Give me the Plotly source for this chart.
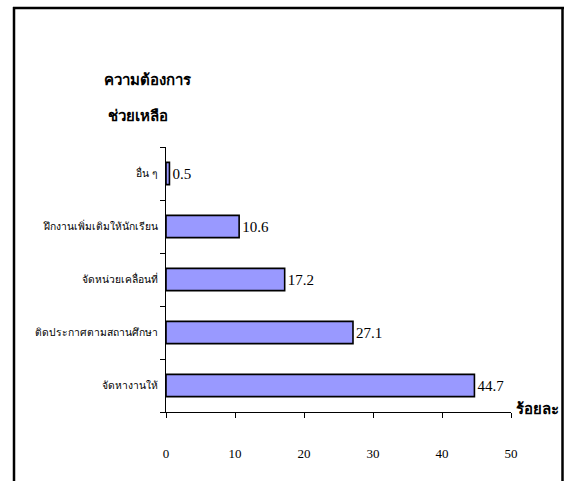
import plotly.graph_objects as go

categories = ["อื่น ๆ", "ฝึกงานเพิ่มเติมให้นักเรียน", "จัดหน่วยเคลื่อนที่", "ติดประกาศตามสถานศึกษา", "จัดหางานให้"]
values = [0.5, 10.6, 17.2, 27.1, 44.7]
x_ticks = [0, 10, 20, 30, 40, 50]
title_lines = ["ความต้องการ", "ช่วยเหลือ"]
x_title = "ร้อยละ"

W, H = 565, 481
L, R, T, B = 166, 54, 147, 69
pw, ph = W - L - R, H - T - B

def px(x):
    return (x - L) / pw

def py(y):
    return (H - B - y) / ph

fig = go.Figure()
fig.add_trace(go.Bar(
    x=values, y=categories, orientation="h",
    marker=dict(color="#9999FF", line=dict(color="black", width=1.6)),
    width=0.42,
    text=[f"{v:.1f}" for v in values], textposition="outside",
    textfont=dict(family="Liberation Serif", size=15, color="black"),
    cliponaxis=False, hoverinfo="skip",
))

fig.update_layout(
    width=W, height=H, margin=dict(l=L, r=R, t=T, b=B, pad=0),
    paper_bgcolor="white", plot_bgcolor="white", showlegend=False,
    font=dict(family="Liberation Serif", color="black"),
    xaxis=dict(range=[0, 50], tickvals=x_ticks, ticks="outside", ticklen=5,
               tickcolor="black", showline=True, linecolor="black", linewidth=1,
               showgrid=False, zeroline=False, ticklabelstandoff=24,
               tickfont=dict(family="Liberation Serif", size=13, color="#000000")),
    yaxis=dict(type="category", categoryorder="array", categoryarray=categories[::-1],
               tickson="boundaries", ticks="outside", ticklen=5, tickcolor="black",
               showline=True, linecolor="black", linewidth=1, showgrid=False,
               ticklabelstandoff=5,
               tickfont=dict(family="Liberation Serif", size=10.3, color="black")),
)

frame = dict(color="black", width=2.5)
fig.add_shape(type="line", xref="paper", yref="paper",
              x0=px(14), x1=px(14), y0=py(7), y1=py(H + 5), line=frame)
fig.add_shape(type="line", xref="paper", yref="paper",
              x0=px(562.5), x1=px(562.5), y0=py(7), y1=py(H + 5), line=frame)
fig.add_shape(type="line", xref="paper", yref="paper",
              x0=px(13), x1=px(564), y0=py(8), y1=py(8), line=frame)

fig.add_annotation(text=f"<b>{title_lines[0]}</b>", xref="paper", yref="paper",
                   x=px(148), y=py(80), showarrow=False, xanchor="center", yanchor="middle",
                   font=dict(size=15, color="black"))
fig.add_annotation(text=f"<b>{title_lines[1]}</b>", xref="paper", yref="paper",
                   x=px(138), y=py(116), showarrow=False, xanchor="center", yanchor="middle",
                   font=dict(size=15, color="black"))
fig.add_annotation(text=f"<b>{x_title}</b>", xref="paper", yref="paper",
                   x=px(537), y=py(409), showarrow=False, xanchor="center", yanchor="middle",
                   font=dict(size=15, color="black"))

fig.write_html("out.html", config={"displayModeBar": False},
               post_script="document.body.style.margin='0';document.body.style.overflow='hidden';")
